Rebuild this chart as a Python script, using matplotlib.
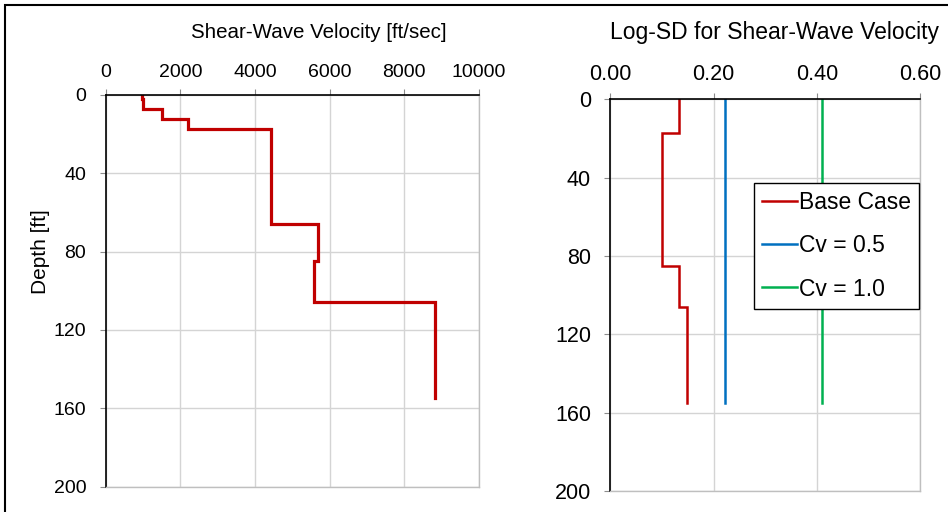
import numpy as np
import matplotlib
matplotlib.use('Agg')
import matplotlib.pyplot as plt
from matplotlib.patches import Rectangle

plt.rcParams['font.family'] = ['Liberation Sans', 'DejaVu Sans']

# shear-wave velocity profile (layer tops, bottom of profile, velocities)
vs_top = [0, 2, 7.3, 12.3, 17.2, 66, 85, 106]
vs_bottom = 155
vs_vals = [965, 1010, 1510, 2200, 4420, 5680, 5590, 8820]

# log-SD profiles
sd_top = [0, 17, 85, 106]
sd_bottom = 155
sd_base = [0.133, 0.10, 0.133, 0.149]
sd_cv05 = 0.223
sd_cv10 = 0.41

vel_ticks = [0, 2000, 4000, 6000, 8000, 10000]
sd_ticks = [0.0, 0.2, 0.4, 0.6]
depth_ticks = [0, 40, 80, 120, 160, 200]


def step_profile(tops, bottom, vals):
    edges = list(tops) + [bottom]
    x, y = [], []
    for i, v in enumerate(vals):
        x += [v, v]
        y += [edges[i], edges[i + 1]]
    return np.array(x), np.array(y)


def style_axes(ax, fs):
    ax.xaxis.tick_top()
    ax.invert_yaxis()
    ax.grid(True, color='#d4d4d4', lw=1.0)
    ax.set_axisbelow(True)
    for s in ['left', 'top']:
        ax.spines[s].set_color('black')
        ax.spines[s].set_linewidth(1.2)
    for s in ['right', 'bottom']:
        ax.spines[s].set_color('#bfbfbf')
        ax.spines[s].set_linewidth(1.0)
    ax.tick_params(axis='both', length=4.5, color='#8c8c8c', labelsize=fs)
    ax.tick_params(axis='x', pad=5.5)
    ax.tick_params(axis='y', pad=9.5)


fig = plt.figure(figsize=(9.48, 5.12), dpi=100)

ax1 = fig.add_axes([0.1115, 0.0498, 0.3938, 0.7647])
x, y = step_profile(vs_top, vs_bottom, vs_vals)
ax1.plot(x, y, color='#c00000', lw=2.3, solid_joinstyle='miter')
ax1.set_xlim(0, 10000)
ax1.set_ylim(0, 200)
ax1.set_xticks(vel_ticks)
ax1.set_yticks(depth_ticks)
style_axes(ax1, 14)
fig.text(40 / 948, 1 - 252 / 512, 'Depth [ft]', rotation=90, ha='center', va='center', fontsize=15)
fig.text(318.5 / 948, 1 - 33 / 512, 'Shear-Wave Velocity [ft/sec]', ha='center', va='center', fontsize=14.8)

ax2 = fig.add_axes([0.6438, 0.041, 0.3267, 0.765])
x, y = step_profile(sd_top, sd_bottom, sd_base)
ax2.plot(x, y, color='#c00000', lw=1.8, label='Base Case', solid_joinstyle='miter')
ax2.plot([sd_cv05, sd_cv05], [0, sd_bottom], color='#0070c0', lw=1.8, label='Cv = 0.5')
ax2.plot([sd_cv10, sd_cv10], [0, sd_bottom], color='#00b050', lw=1.8, label='Cv = 1.0')
ax2.set_xlim(0, 0.6)
ax2.set_ylim(0, 200)
ax2.set_xticks(sd_ticks)
ax2.set_xticklabels(['%.2f' % t for t in sd_ticks])
ax2.set_yticks(depth_ticks)
style_axes(ax2, 15.5)
leg = ax2.legend(loc='upper right', bbox_to_anchor=(0.997, 0.786), borderaxespad=0,
                 fancybox=False, edgecolor='black', framealpha=1, fontsize=16.5,
                 handlelength=1.5, handletextpad=0.1, labelspacing=0.88,
                 borderpad=0.35)
leg.get_frame().set_linewidth(1.0)
fig.text(774 / 948, 1 - 32 / 512, 'Log-SD for Shear-Wave Velocity', ha='center', va='center', fontsize=16.5)

# outer frame (partly cut off at right and bottom)
fig.patches.append(Rectangle((5 / 948, -0.1), 1.1, 1 - 5 / 512 + 0.1,
                             transform=fig.transFigure, fill=False,
                             edgecolor='black', lw=1.5))

fig.savefig('out.png', dpi=100)
